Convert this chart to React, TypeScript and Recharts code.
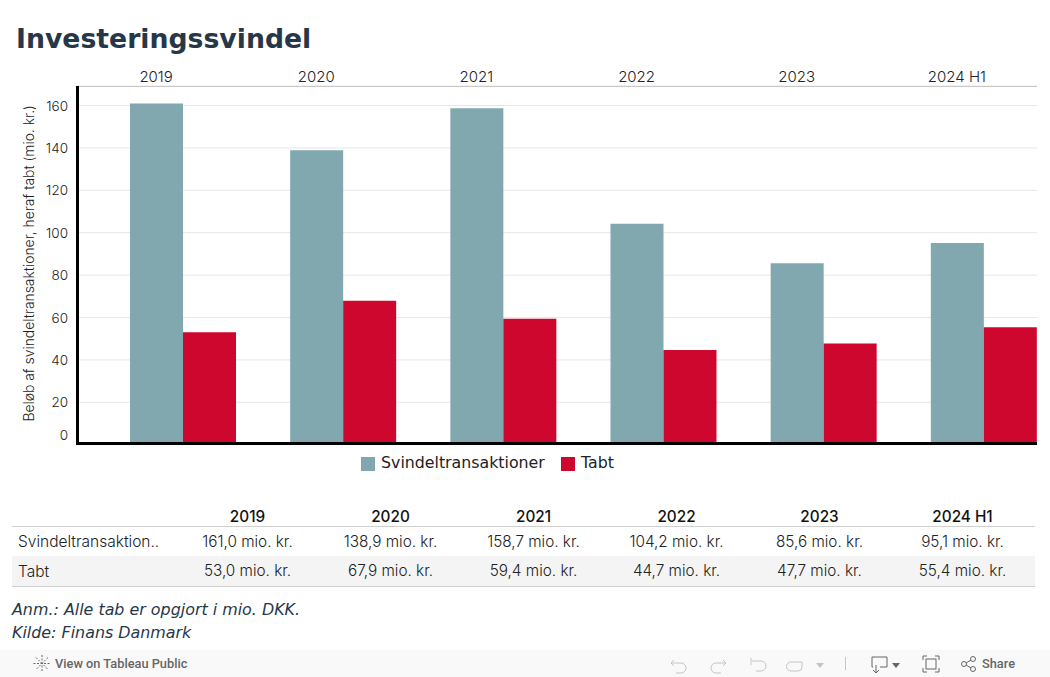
import { BarChart, Bar, XAxis, YAxis, CartesianGrid, ReferenceLine } from "recharts";

const years = ["2019", "2020", "2021", "2022", "2023", "2024 H1"];
const svindel = [161.0, 138.9, 158.7, 104.2, 85.6, 95.1];
const tabt = [53.0, 67.9, 59.4, 44.7, 47.7, 55.4];
const yTicks = [0, 20, 40, 60, 80, 100, 120, 140, 160];

const SVINDEL_COLOR = "#81a8af";
const TABT_COLOR = "#cd072d";
const NOTE_COLOR = "#26374a";
const LIGHT_FONT = "Inter, sans-serif";

// the workbook leaves an empty slot before the two bars, so they sit right in the band
const rows = years.map((year, i) => ({
  year,
  tom: null,
  svindel: svindel[i],
  tabt: tabt[i],
}));

const fmt = (v: number) => `${v.toFixed(1).replace(".", ",")} mio. kr.`;

function YTick({ x, y, payload }: any) {
  // Tableau pushes the zero label up so it stays clear of the axis
  const shift = payload.value === 0 ? -10 : 0;
  return (
    <text x={x} y={y + shift} dy={5} textAnchor="end" fontSize={13.5} fontWeight={300} fontFamily={LIGHT_FONT} fill="#222">
      {payload.value}
    </text>
  );
}

function TableRow({ label, values, top, bg, labelTop, valueTop }: { label: string; values: number[]; top: number; bg?: string; labelTop: number; valueTop: number }) {
  return (
    <div style={{ position: "absolute", left: 12, top, width: 1023, height: 30, background: bg, fontFamily: LIGHT_FONT, fontWeight: 300, fontSize: 15.3, color: "#222", lineHeight: "28px" }}>
      <span style={{ position: "absolute", left: 6, top: labelTop, fontSize: 15.5 }}>{label}</span>
      {values.map((v, i) => (
        <span key={i} style={{ position: "absolute", left: 164 + i * 143, top: valueTop, width: 143, textAlign: "center" }}>
          {fmt(v)}
        </span>
      ))}
    </div>
  );
}

function Toolbar() {
  const stroke = "#c4c4c4";
  const dark = "#666";
  return (
    <div style={{ position: "absolute", left: 0, top: 650, width: 1050, height: 27, background: "#f9f9f9", fontFamily: "Roboto, sans-serif", fontSize: 12.8, fontWeight: 500, color: "#666" }}>
      <svg width={1050} height={27} style={{ position: "absolute", left: 0, top: 0 }} fill="none">
        <g stroke={dark} strokeWidth={1} strokeDasharray="2 1.5">
          <path d="M42 5V22M33.5 13.5H50.5M36 7.5L48 19.5M48 7.5L36 19.5" />
        </g>
        <g stroke={stroke} strokeWidth={1}>
          <path d="M671 13H681a5 5 0 0 1 0 10H676M671 13l3-3M671 13l3 3" />
          <path d="M726 13H716a5 5 0 0 0 0 10H721M726 13l-3-3M726 13l-3 3" />
          <path d="M751 8V15M752 11H761a5 5 0 0 1 0 10H756" />
          <path d="M802 12H791a4 4 0 0 0 0 9H798a4 4 0 0 0 4-4V12" />
          <path d="M845.5 7V20" />
        </g>
        <path d="M816 13H824L820 18Z" fill={stroke} />
        <g stroke={dark} strokeWidth={1}>
          <path d="M876 22V15M873 20L876 23L879 20" />
          <path d="M873 17H872V7H887V17H880" />
          <path d="M923 10V6H927M935 6H939V10M939 18V22H935M927 22H923V18" />
          <rect x={926} y={9} width={10} height={10} />
          <circle cx={964} cy={14} r={2.5} />
          <circle cx={973} cy={9} r={2.5} />
          <circle cx={973} cy={19} r={2.5} />
          <path d="M966 13L971 10M966 15L971 18" />
        </g>
        <path d="M892 13H900L896 18Z" fill={dark} />
      </svg>
      <span style={{ position: "absolute", left: 55, top: 6 }}>View on Tableau Public</span>
      <span style={{ position: "absolute", left: 982, top: 6 }}>Share</span>
    </div>
  );
}

export default function App() {
  return (
    <div style={{ position: "absolute", left: 0, top: 0, width: 1050, height: 677, background: "#fff", overflow: "hidden" }}>
      <div style={{ position: "absolute", left: 16, top: 21, fontFamily: "DejaVu Sans, sans-serif", fontWeight: 700, fontSize: 26.7, color: NOTE_COLOR, lineHeight: "36px" }}>
        Investeringssvindel
      </div>

      <div style={{ position: "absolute", left: 0, top: 0 }}>
        <BarChart width={1050} height={460} data={rows} barSize={53} barGap={0} barCategoryGap={0} margin={{ top: 62, right: 13, bottom: 15.3, left: 0 }}>
          <CartesianGrid vertical={false} stroke="#e6e6e6" />
          <XAxis
            dataKey="year"
            orientation="top"
            height={24}
            tickLine={false}
            axisLine={{ stroke: "#c8c8c8", transform: "translate(0,0.5)" }}
            tick={{ fontSize: 15, fontWeight: 300, fontFamily: LIGHT_FONT, fill: "#222", dy: 4 }}
            interval={0}
          />
          <YAxis
            width={76}
            domain={[0, 169.2]}
            ticks={yTicks}
            tickLine={false}
            axisLine={{ stroke: "#000", strokeWidth: 3, transform: "translate(1.5,0)" }}
            tick={<YTick />}
            label={{
              value: "Beløb af svindeltransaktioner, heraf tabt (mio. kr.)",
              angle: -90,
              position: "insideLeft",
              offset: 29,
              dy: -2,
              style: { textAnchor: "middle", fontSize: 13.9, fontWeight: 300, fontFamily: LIGHT_FONT, fill: "#222" },
            }}
          />
          <Bar dataKey="tom" fill="none" isAnimationActive={false} />
          <Bar dataKey="svindel" fill={SVINDEL_COLOR} isAnimationActive={false} />
          <Bar dataKey="tabt" fill={TABT_COLOR} isAnimationActive={false} />
          <ReferenceLine y={0.57} stroke="#000" strokeWidth={3} />
        </BarChart>
      </div>

      {/* legend */}
      <div style={{ position: "absolute", left: 361, top: 454, fontFamily: "DejaVu Sans, sans-serif", fontSize: 15.8, color: "#222", lineHeight: "18px" }}>
        <span style={{ position: "absolute", left: 0, top: 3, width: 14, height: 14, background: SVINDEL_COLOR }} />
        <span style={{ position: "absolute", left: 20, top: 0 }}>Svindeltransaktioner</span>
        <span style={{ position: "absolute", left: 200, top: 3, width: 14, height: 14, background: TABT_COLOR }} />
        <span style={{ position: "absolute", left: 220, top: 0 }}>Tabt</span>
      </div>

      {/* table below the chart */}
      <div style={{ position: "absolute", left: 12, top: 506, width: 1023, height: 20, borderBottom: "1px solid #cfcfcf", fontFamily: LIGHT_FONT, fontWeight: 500, fontSize: 15.3, color: "#111", lineHeight: "22px" }}>
        {years.map((y, i) => (
          <span key={y} style={{ position: "absolute", left: 164 + i * 143, width: 143, textAlign: "center" }}>
            {y}
          </span>
        ))}
      </div>
      <TableRow label="Svindeltransaktion.." values={svindel} top={527} labelTop={1} valueTop={1} />
      <TableRow label="Tabt" values={tabt} top={556} bg="#f4f4f4" labelTop={2} valueTop={1} />
      <div style={{ position: "absolute", left: 12, top: 586, width: 1023, height: 1, background: "#cfcfcf" }} />

      <div style={{ position: "absolute", left: 12, top: 598, fontFamily: "DejaVu Sans, sans-serif", fontStyle: "oblique", fontSize: 15.9, color: NOTE_COLOR, lineHeight: "23px" }}>
        <div>Anm.: Alle tab er opgjort i mio. DKK.</div>
        <div>Kilde: Finans Danmark</div>
      </div>

      <Toolbar />
    </div>
  );
}
